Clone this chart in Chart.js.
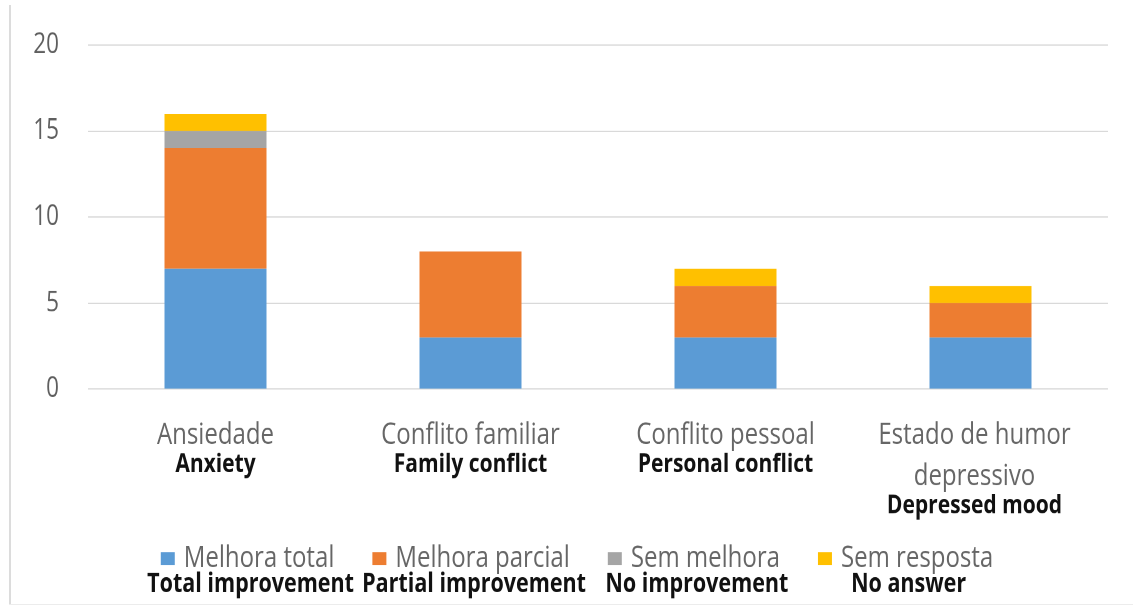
<!DOCTYPE html>
<html>
<head>
<meta charset="utf-8">
<script src="https://cdn.jsdelivr.net/npm/chart.js@4.4.1/dist/chart.umd.min.js"></script>
<style>
  html, body { margin:0; padding:0; background:#ffffff; overflow:hidden; }
  #page { position:relative; width:1133px; height:609px; background:#fff; }
  #frameL { position:absolute; left:9px; top:5px; width:0; height:600px; border-left:2px solid #dcdcdc; }
  #frameB { position:absolute; left:9px; top:604px; width:1124px; height:0; border-top:1px solid #ececec; }
  #wrap { position:absolute; left:0; top:0; width:1133px; height:487px; transform:scaleY(1.2505); transform-origin:0 0; }
</style>
</head>
<body>
<div id="page">
  <div id="wrap"><canvas id="c" width="1133" height="487"></canvas></div>
  <div id="frameL"></div>
  <div id="frameB"></div>
</div>
<script>
const categoriesPt = [["Ansiedade"], ["Conflito familiar"], ["Conflito pessoal"], ["Estado de humor", "depressivo"]];
const categoriesEn = ["Anxiety", "Family conflict", "Personal conflict", "Depressed mood"];
const seriesPt = ["Melhora total", "Melhora parcial", "Sem melhora", "Sem resposta"];
const seriesEn = ["Total improvement", "Partial improvement", "No improvement", "No answer"];
const totalImprovement = [7, 3, 3, 3];
const partialImprovement = [7, 5, 3, 2];
const noImprovement = [1, 0, 0, 0];
const noAnswer = [1, 0, 1, 1];
const yTicks = [0, 5, 10, 15, 20];
const colors = ["#5B9BD5", "#ED7D31", "#A5A5A5", "#FFC000"];

const FONT = "'Open Sans', 'DejaVu Sans', sans-serif";
const PT_FONT = "24px " + FONT;
const EN_FONT = "bold 21px " + FONT;
const LEG_EN_FONT = "bold 21.5px " + FONT;

const textPlugin = {
  id: 'textPlugin',
  afterDraw(chart) {
    const ctx = chart.ctx;
    const y = chart.scales.y, x = chart.scales.x;
    ctx.save();
    // y tick labels
    ctx.font = "22.5px " + FONT;
    ctx.fillStyle = "#5f5f5f";
    ctx.textAlign = "right";
    ctx.textBaseline = "middle";
    yTicks.forEach(v => ctx.fillText(String(v), 59, y.getPixelForValue(v)));
    // category labels
    ctx.textAlign = "center";
    ctx.textBaseline = "alphabetic";
    const ptBase = y.bottom + 44;
    categoriesEn.forEach((en, i) => {
      const cx = x.getPixelForValue(i) - (categoriesPt[i].length > 1 ? 6 : 0);
      const lines = categoriesPt[i];
      ctx.font = PT_FONT;
      ctx.fillStyle = "#666666";
      lines.forEach((ln, j) => ctx.fillText(ln, cx, ptBase + j * 33));
      ctx.font = EN_FONT;
      ctx.fillStyle = "#111111";
      ctx.fillText(en, cx, ptBase + (lines.length - 1) * 33 + 22.5);
    });
    // legend
    const legBase = 453.6;
    const sq = 14, sqH = 10.4, gapT = 9, gapI = 38;
    ctx.font = PT_FONT;
    const widths = seriesPt.map(s => sq + gapT + ctx.measureText(s).width);
    const total = widths.reduce((a, b) => a + b, 0) + gapI * (widths.length - 1);
    let lx = 577 - total / 2;
    seriesPt.forEach((s, i) => {
      ctx.fillStyle = colors[i];
      ctx.fillRect(lx, legBase - 12, sq, sqH);
      ctx.font = PT_FONT;
      ctx.fillStyle = "#666666";
      ctx.textAlign = "left";
      ctx.fillText(s, lx + sq + gapT, legBase);
      ctx.font = LEG_EN_FONT;
      ctx.fillStyle = "#111111";
      ctx.textAlign = "center";
      ctx.fillText(seriesEn[i], lx + widths[i] / 2 + 3, legBase + 20);
      lx += widths[i] + gapI;
    });
    ctx.restore();
  }
};

const mk = (label, data, color) => ({
  label, data, backgroundColor: color, borderWidth: 0,
  categoryPercentage: 1.0, barPercentage: 0.4
});

new Chart(document.getElementById('c'), {
  type: 'bar',
  data: {
    labels: categoriesEn,
    datasets: [
      mk(seriesEn[0], totalImprovement, colors[0]),
      mk(seriesEn[1], partialImprovement, colors[1]),
      mk(seriesEn[2], noImprovement, colors[2]),
      mk(seriesEn[3], noAnswer, colors[3])
    ]
  },
  options: {
    responsive: false,
    devicePixelRatio: 2,
    animation: false,
    layout: { padding: { left: 88, right: 25, top: 36, bottom: 175.8 } },
    plugins: { legend: { display: false }, tooltip: { enabled: false } },
    scales: {
      x: {
        stacked: true,
        grid: { display: false },
        border: { display: false },
        ticks: { display: false },
        afterFit: s => { s.height = 0; }
      },
      y: {
        stacked: true,
        min: 0, max: 20,
        ticks: { display: false, stepSize: 5 },
        border: { display: false },
        grid: { color: "#d9d9d9", lineWidth: 1, drawTicks: false },
        afterFit: s => { s.width = 0; }
      }
    }
  },
  plugins: [textPlugin]
});
</script>
</body>
</html>
